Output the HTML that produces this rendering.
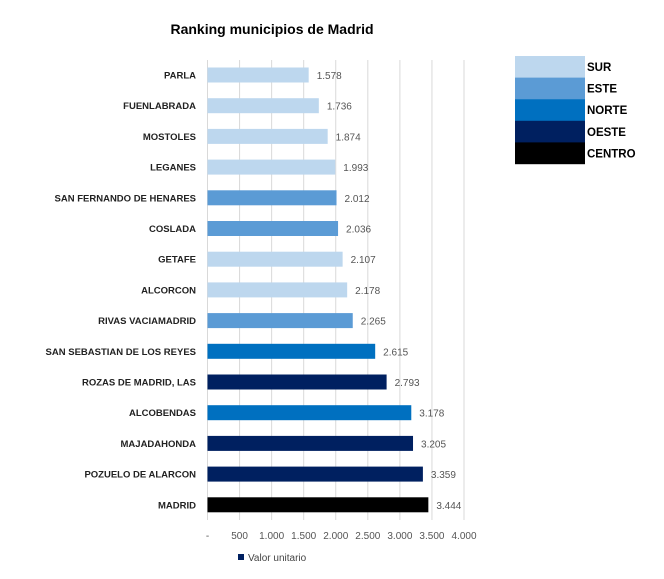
<!DOCTYPE html>
<html><head><meta charset="utf-8"><style>
body{margin:0;background:#fff;font-family:"Liberation Sans",sans-serif}
svg text{font-family:"Liberation Sans",sans-serif}
</style></head><body>
<svg width="664" height="574">
<text x="272" y="34" text-anchor="middle" font-size="14" font-weight="bold" fill="#000">Ranking municipios de Madrid</text>
<g id="grid"></g><g id="bars"></g><g id="labels"></g><g id="ticks"></g>
<g id="legend"></g>
<rect x="238" y="554" width="6" height="6" fill="#002060"/>
<text x="248" y="561" font-size="10" fill="#444">Valor unitario</text>
</svg>
<script>
const categories=["PARLA","FUENLABRADA","MOSTOLES","LEGANES","SAN FERNANDO DE HENARES","COSLADA","GETAFE","ALCORCON","RIVAS VACIAMADRID","SAN SEBASTIAN DE LOS REYES","ROZAS DE MADRID, LAS","ALCOBENDAS","MAJADAHONDA","POZUELO DE ALARCON","MADRID"];
const values=[1578,1736,1874,1993,2012,2036,2107,2178,2265,2615,2793,3178,3205,3359,3444];
const valueLabels=["1.578","1.736","1.874","1.993","2.012","2.036","2.107","2.178","2.265","2.615","2.793","3.178","3.205","3.359","3.444"];
const regions=["SUR","SUR","SUR","SUR","ESTE","ESTE","SUR","SUR","ESTE","NORTE","OESTE","NORTE","OESTE","OESTE","CENTRO"];
const tickValues=[0,500,1000,1500,2000,2500,3000,3500,4000];
const tickLabels=["-","500","1.000","1.500","2.000","2.500","3.000","3.500","4.000"];
const legendNames=["SUR","ESTE","NORTE","OESTE","CENTRO"];
const colors={SUR:"#bdd7ee",ESTE:"#5b9bd5",NORTE:"#0070c0",OESTE:"#002060",CENTRO:"#000000"};
const NS="http://www.w3.org/2000/svg";
const x=v=>207.5+v*256.5/4000;
const y=i=>75+i*30.7;
function mk(tag,attrs,parent,text){const e=document.createElementNS(NS,tag);for(const k in attrs)e.setAttribute(k,attrs[k]);if(text!==undefined)e.textContent=text;document.getElementById(parent).appendChild(e);return e;}
tickValues.forEach((t,i)=>{
 const l=mk("line",{x1:x(t),x2:x(t),y1:60,y2:520,stroke:"#d9d9d9","stroke-width":1},"grid");
 
 
 const tx=mk("text",{x:x(t),y:539,"text-anchor":"middle","font-size":"10",fill:"#555"},"ticks",tickLabels[i]);
 
 
});
categories.forEach((c,i)=>{
 const r=mk("rect",{x:x(0),y:y(i)-7.5,width:x(values[i])-x(0),height:15,fill:colors[regions[i]]},"bars");
 
 
 const lb=mk("text",{x:196,y:y(i)+3.5,"text-anchor":"end","font-size":"9.5","font-weight":"bold",fill:"#222"},"labels",c);
 
 
 const vl=mk("text",{x:x(values[i])+8,y:y(i)+4,"font-size":"10",fill:"#555"},"labels",valueLabels[i]);
 
 
});
legendNames.forEach((n,i)=>{
 const r=mk("rect",{x:515,y:56+i*21.6,width:70,height:21.8,fill:colors[n]},"legend");
 
 
 const t=mk("text",{x:587,y:56+i*21.6+15,"font-size":"11.5","font-weight":"bold",fill:"#000"},"legend",n);
 
 
});
</script>
</body></html>
